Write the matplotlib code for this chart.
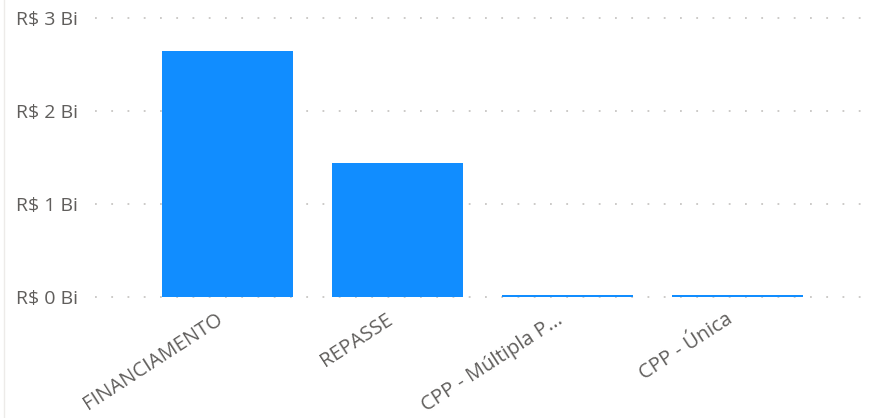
import matplotlib.pyplot as plt

# dados (em bilhoes de R$)
categorias = ["FINANCIAMENTO", "REPASSE", "CPP - Múltipla P...", "CPP - Única"]
valores = [2.645, 1.44, 0.02, 0.02]
yticks = [0, 1, 2, 3]
ytick_labels = ["R$ 0 Bi", "R$ 1 Bi", "R$ 2 Bi", "R$ 3 Bi"]

plt.rcParams['font.family'] = ['Open Sans', 'DejaVu Sans']
cor_texto = "#605E5C"

fig = plt.figure(figsize=(8.72, 4.18), dpi=100)
ax = fig.add_axes([95 / 872, 1 - 297 / 418, (870 - 95) / 872, (297 - 18) / 418])

x = list(range(len(categorias)))
ax.bar(x, valores, width=0.77, color="#118DFF", zorder=3)

ax.set_ylim(0, 3)
ax.set_xlim(-0.78, 3.78)
ax.set_yticks(yticks)
ax.set_yticklabels(ytick_labels, fontsize=14, color=cor_texto)
ax.yaxis.grid(True, color="#C8C6C4", linestyle=(0, (1, 8)), linewidth=1.3, zorder=0)
for gl in ax.yaxis.get_gridlines():
    gl.set_clip_on(False)

# rotulos um pouco a esquerda do centro da barra, como no Power BI
ax.set_xticks([i - 0.07 for i in x])
ax.set_xticklabels(categorias, rotation=33, ha="right", va="top",
                   rotation_mode="anchor", fontsize=14.5, color=cor_texto)

ax.tick_params(axis="both", length=0)
ax.tick_params(axis="y", pad=12)
ax.tick_params(axis="x", pad=9)
for s in ax.spines.values():
    s.set_visible(False)

# borda clara a esquerda
fig.add_artist(plt.Line2D([4 / 872, 4 / 872], [0, 1], color="#EDEBE9", linewidth=1))

fig.savefig("out.png", dpi=100)
